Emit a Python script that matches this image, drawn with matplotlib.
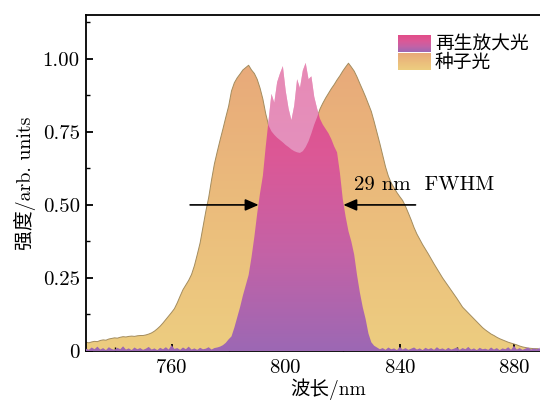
import numpy as np
import matplotlib
matplotlib.use("Agg")
import matplotlib.pyplot as plt
from matplotlib.colors import LinearSegmentedColormap
from matplotlib.ticker import MultipleLocator, FuncFormatter

plt.rcParams['font.family'] = ['cmr10', 'Noto Sans CJK SC']
plt.rcParams['axes.formatter.use_mathtext'] = True

# ---- data ----
wl_start, wl_stop, wl_step = 730, 900, 1  # wavelength grid, nm

seed = [
    0.030, 0.028, 0.031, 0.033, 0.032, 0.036, 0.038, 0.037, 0.041, 0.043,   # 730-739
    0.045, 0.044, 0.047, 0.049, 0.048, 0.050, 0.051, 0.050, 0.052, 0.053,   # 740-749
    0.053, 0.055, 0.058, 0.062, 0.068, 0.076, 0.085, 0.096, 0.108, 0.120,   # 750-759
    0.132, 0.145, 0.165, 0.188, 0.210, 0.226, 0.242, 0.262, 0.292, 0.330,   # 760-769
    0.370, 0.425, 0.478, 0.525, 0.585, 0.640, 0.682, 0.722, 0.760, 0.800,   # 770-779
    0.838, 0.890, 0.918, 0.935, 0.948, 0.962, 0.970, 0.978, 0.962, 0.950,   # 780-789
    0.930, 0.900, 0.862, 0.812, 0.772, 0.752, 0.740, 0.730, 0.722, 0.714,   # 790-799
    0.705, 0.698, 0.690, 0.684, 0.680, 0.678, 0.684, 0.698, 0.718, 0.745,   # 800-809
    0.775, 0.800, 0.828, 0.848, 0.866, 0.882, 0.898, 0.912, 0.928, 0.942,   # 810-819
    0.958, 0.972, 0.985, 0.972, 0.958, 0.938, 0.915, 0.893, 0.870, 0.845,   # 820-829
    0.820, 0.785, 0.748, 0.710, 0.670, 0.630, 0.598, 0.575, 0.558, 0.542,   # 830-839
    0.528, 0.515, 0.495, 0.472, 0.448, 0.422, 0.400, 0.382, 0.364, 0.348,   # 840-849
    0.332, 0.315, 0.298, 0.282, 0.266, 0.250, 0.236, 0.222, 0.208, 0.194,   # 850-859
    0.180, 0.165, 0.150, 0.140, 0.130, 0.120, 0.110, 0.100, 0.090, 0.080,   # 860-869
    0.072, 0.065, 0.058, 0.053, 0.047, 0.042, 0.038, 0.034, 0.030, 0.027,   # 870-879
    0.024, 0.021, 0.017, 0.014, 0.012, 0.010, 0.009, 0.008, 0.008, 0.007,   # 880-889
    0.006, 0.006, 0.006, 0.005, 0.005, 0.005, 0.005, 0.004, 0.004, 0.004,   # 890-899
    0.004,                                                                  # 900
]

amplified = [
    0.008, 0.004, 0.012, 0.006, 0.015, 0.005, 0.010, 0.003, 0.013, 0.007,   # 730-739
    0.004, 0.011, 0.006, 0.016, 0.005, 0.009, 0.003, 0.012, 0.006, 0.010,   # 740-749
    0.004, 0.008, 0.014, 0.005, 0.009, 0.003, 0.011, 0.006, 0.013, 0.005,   # 750-759
    0.020, 0.007, 0.010, 0.004, 0.012, 0.006, 0.015, 0.005, 0.009, 0.004,   # 760-769
    0.011, 0.006, 0.008, 0.013, 0.005, 0.010, 0.012, 0.015, 0.020, 0.028,   # 770-779
    0.040, 0.050, 0.080, 0.115, 0.150, 0.190, 0.225, 0.260, 0.320, 0.390,   # 780-789
    0.470, 0.540, 0.600, 0.700, 0.790, 0.880, 0.850, 0.920, 0.950, 0.975,   # 790-799
    0.890, 0.830, 0.790, 0.840, 0.930, 0.900, 0.960, 0.986, 0.930, 0.940,   # 800-809
    0.870, 0.830, 0.795, 0.775, 0.760, 0.745, 0.725, 0.700, 0.680, 0.610,   # 810-819
    0.520, 0.460, 0.410, 0.375, 0.330, 0.260, 0.200, 0.150, 0.110, 0.060,   # 820-829
    0.030, 0.018, 0.012, 0.006, 0.010, 0.004, 0.012, 0.006, 0.009, 0.003,   # 830-839
    0.014, 0.005, 0.010, 0.004, 0.008, 0.012, 0.005, 0.009, 0.003, 0.011,   # 840-849
    0.006, 0.010, 0.004, 0.013, 0.006, 0.009, 0.004, 0.011, 0.005, 0.008,   # 850-859
    0.012, 0.004, 0.010, 0.006, 0.014, 0.005, 0.009, 0.003, 0.011, 0.006,   # 860-869
    0.008, 0.004, 0.012, 0.005, 0.010, 0.003, 0.009, 0.006, 0.013, 0.004,   # 870-879
    0.018, 0.005, 0.010, 0.004, 0.008, 0.012, 0.005, 0.009, 0.006, 0.011,   # 880-889
    0.005, 0.009, 0.004, 0.010, 0.006, 0.008, 0.004, 0.011, 0.005, 0.007,   # 890-899
    0.004,                                                                  # 900
]

legend_labels = ['再生放大光', '种子光']
fwhm_text = '29 nm  FWHM'
fwhm_left, fwhm_right, fwhm_level = 790.5, 820.2, 0.5
x_ticks = [760, 800, 840, 880]
y_ticks = [0, 0.25, 0.50, 0.75, 1.00]

wl = np.arange(wl_start, wl_stop + wl_step, wl_step)
seed = np.array(seed)
amplified = np.array(amplified)

# ---- colours ----
seed_cmap = LinearSegmentedColormap.from_list('seed', ['#EDCD80', '#EBBC7C', '#E8A97A'])
amp_cmap = LinearSegmentedColormap.from_list('amp', ['#9C68B4', '#C462A6', '#DC5896', '#E24C88'])
grad = np.linspace(0, 1, 256).reshape(-1, 1)

fig = plt.figure(figsize=(5.4, 4.0), dpi=100)
ax = fig.add_axes([86 / 540, 49 / 400, 485 / 540, 336 / 400])

# seed spectrum (gradient fill)
seed_poly = ax.fill_between(wl, 0, seed, color='none', lw=0)
img = ax.imshow(grad, extent=[wl_start, wl_stop, 0, 1.0], origin='lower',
                aspect='auto', cmap=seed_cmap, zorder=1, interpolation='bilinear')
img.set_clip_path(seed_poly.get_paths()[0], transform=ax.transData)
ax.plot(wl, seed, color='#A38C5E', lw=0.7, zorder=2)

# amplified spectrum (gradient fill)
amp_poly = ax.fill_between(wl, 0, amplified, color='none', lw=0)
img2 = ax.imshow(grad, extent=[wl_start, wl_stop, 0, 1.0], origin='lower',
                 aspect='auto', cmap=amp_cmap, zorder=3, interpolation='bilinear')
img2.set_clip_path(amp_poly.get_paths()[0], transform=ax.transData)
# lighter part where amplified exceeds the seed
ax.fill_between(wl, seed, amplified, where=amplified > seed, interpolate=True,
                color='#F0E0F4', alpha=0.42, lw=0, zorder=4)

# FWHM arrows and text
arrow_style = '-|>,head_length=0.8,head_width=0.35'
ax.annotate('', xy=(fwhm_left, fwhm_level), xytext=(766.5, fwhm_level),
            arrowprops=dict(arrowstyle=arrow_style, color='black', lw=1.2,
                            mutation_scale=10, shrinkA=0, shrinkB=0), zorder=6)
ax.annotate('', xy=(fwhm_right, fwhm_level), xytext=(845.5, fwhm_level),
            arrowprops=dict(arrowstyle=arrow_style, color='black', lw=1.2,
                            mutation_scale=10, shrinkA=0, shrinkB=0), zorder=6)
ax.text(824.0, 0.567, fwhm_text, fontsize=15, va='center', ha='left', zorder=6)

# legend (gradient patches)
ax.imshow(grad, extent=[0.643, 0.709, 0.890, 0.940], origin='lower', aspect='auto',
          cmap=amp_cmap, transform=ax.transAxes, zorder=6)
ax.imshow(grad, extent=[0.643, 0.709, 0.837, 0.887], origin='lower', aspect='auto',
          cmap=seed_cmap, transform=ax.transAxes, zorder=6)
ax.text(0.7196, 0.915, legend_labels[0], transform=ax.transAxes, va='center',
        fontsize=13.5, family=['Noto Sans CJK SC'], zorder=6)
ax.text(0.7196, 0.858, legend_labels[1], transform=ax.transAxes, va='center',
        fontsize=13.5, family=['Noto Sans CJK SC'], zorder=6)

# axes
ax.set_xlim(730, 900)
ax.set_ylim(0, 1.15)
ax.set_xticks(x_ticks)
ax.xaxis.set_minor_locator(MultipleLocator(20))
ax.set_yticks(y_ticks)
ax.yaxis.set_minor_locator(MultipleLocator(0.125))
ax.yaxis.set_major_formatter(FuncFormatter(lambda v, p: '0' if v == 0 else f'{v:.2f}'))
ax.tick_params(which='both', direction='in', top=False, right=False, labelsize=15)
ax.tick_params(which='major', length=5, width=1.3)
ax.tick_params(axis='y', which='major', pad=4.5)
ax.tick_params(axis='x', which='major', pad=6)
ax.tick_params(which='minor', length=3, width=1.0)
for s in ax.spines.values():
    s.set_linewidth(1.3)
ax.set_xlabel('波长/nm', fontsize=14, labelpad=1)
ax.set_ylabel('强度/arb. units', fontsize=14.3, labelpad=5)

fig.savefig('out.png', dpi=100)
